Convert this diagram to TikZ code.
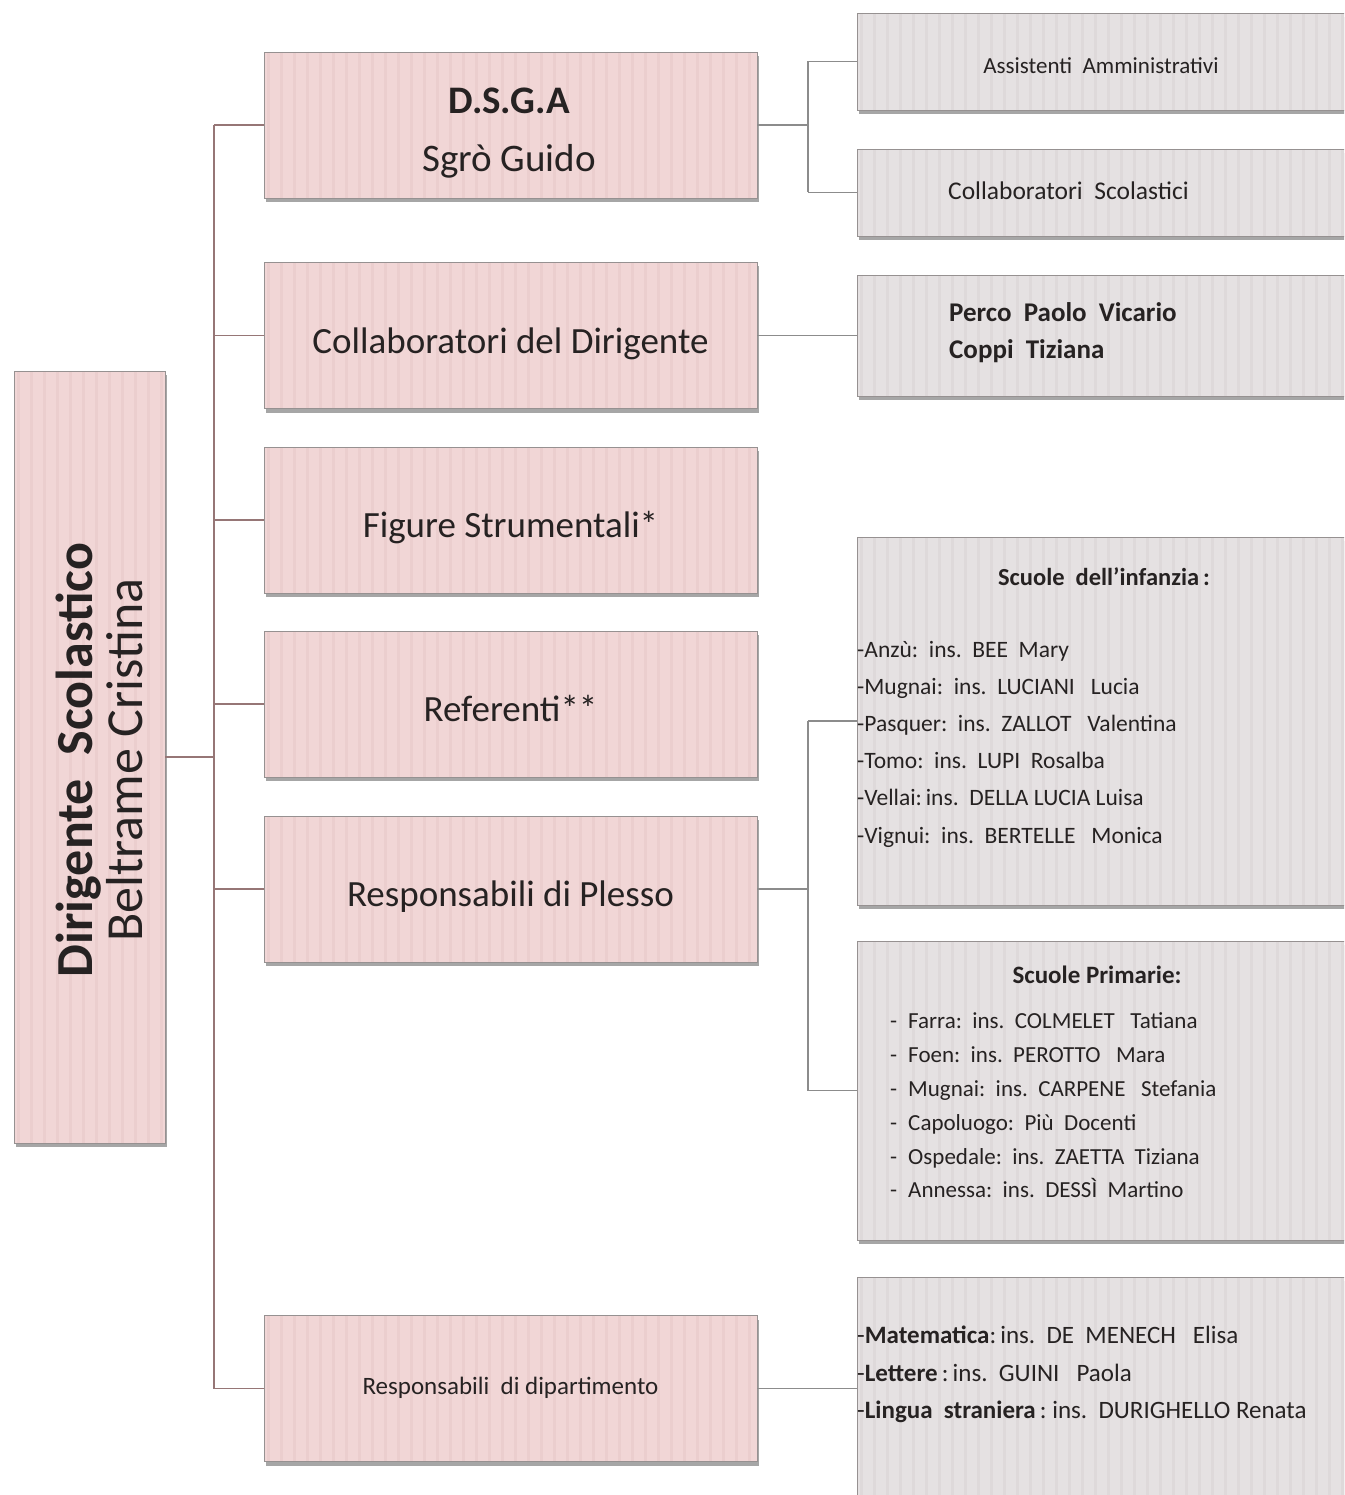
\documentclass[tikz,border=0pt]{standalone}
\usepackage{fontspec}
\setmainfont{Carlito}
\usetikzlibrary{shadows}
\definecolor{pinkfill}{RGB}{241,214,214}
\definecolor{pinkstripe}{RGB}{228,196,196}
\definecolor{grayfill}{RGB}{229,225,226}
\definecolor{graystripe}{RGB}{212,206,208}
\definecolor{trunkcol}{RGB}{150,118,118}
\definecolor{conncol}{RGB}{140,140,140}
\definecolor{boxline}{RGB}{150,145,145}
\definecolor{txt}{RGB}{38,34,34}
\tikzset{
  stripes/.style={path picture={\foreach \i in {0,...,40}{\draw[#1,line width=3pt,opacity=0.4] ([xshift=\i*13pt+4pt]path picture bounding box.north west) -- ([xshift=\i*13pt+4pt]path picture bounding box.south west);}}},
  basebox/.style={draw=boxline, line width=0.9pt, inner sep=0pt, text=txt,
    drop shadow={shadow xshift=1.5pt, shadow yshift=-4pt, fill=black, opacity=0.35}},
  pinkbox/.style={basebox, fill=pinkfill, stripes=pinkstripe},
  graybox/.style={basebox, fill=grayfill, stripes=graystripe},
  midbox/.style={pinkbox, minimum width=493pt, minimum height=146pt, align=center, font=\fontsize{37}{42}\selectfont, text height=42pt, text depth=7pt},
  rightbox/.style={graybox, minimum width=520pt},
  lbl/.style={inner sep=0pt, text=txt, align=left},
  trunkline/.style={draw=trunkcol, line width=1.3pt},
  connline/.style={draw=conncol, line width=1.2pt},
}
\begin{document}
\begin{tikzpicture}[x=1pt,y=-1pt]
\path[use as bounding box, fill=white] (0,0) rectangle (1344,1495);
\begin{scope}
\clip (0,0) rectangle (1344,1495);
% root
\node[pinkbox, minimum width=151pt, minimum height=772pt] (root) at (89.5,757) {};
\node[lbl, rotate=90, align=center, font=\fontsize{52}{50}\selectfont] (roottxt) at (99,760) {\textbf{Dirigente\ \ Scolastico}\\Beltrame Cristina};
% middle column
\node[midbox, minimum height=146pt] (dsga) at (510.5,125) {};
\node[lbl, align=center, font=\fontsize{39}{58}\selectfont] (dsgatxt) at (509,133) {\textbf{D.S.G.A}\\Sgrò Guido};
\node[midbox] (collab) at (510.5,335.5) {Collaboratori del Dirigente};
\node[midbox] (figure) at (510.5,520) {Figure Strumentali*};
\node[midbox] (refer) at (510.5,704) {Referenti**};
\node[midbox] (plesso) at (510.5,889) {Responsabili di Plesso};
\node[midbox, font=\fontsize{25}{28}\selectfont, text height=17.5pt, text depth=5pt] (dip) at (510.5,1388.5) {Responsabili\ \ di dipartimento};
% right column
\node[rightbox, minimum height=97pt] (assist) at (1117,61.5) {};
\node[rightbox, minimum height=87pt] (collsc) at (1117,192.5) {};
\node[rightbox, minimum height=121pt] (perco) at (1117,335.5) {};
\node[rightbox, minimum height=368pt] (infanzia) at (1117,721) {};
\node[rightbox, minimum height=299pt] (primarie) at (1117,1090.5) {};
\node[rightbox, minimum height=253pt] (mat) at (1117,1403.5) {};
% right texts
\node[lbl, font=\fontsize{23}{25}\selectfont] (assisttxt) at (1101,66) {Assistenti\ \ Amministrativi};
\node[lbl, anchor=west, font=\fontsize{25.5}{26}\selectfont] (collsctxt) at (948,191) {Collaboratori\ \ Scolastici};
\node[lbl, anchor=west, font=\fontsize{27}{37}\selectfont\bfseries] (percotxt) at (949,333) {Perco\ \ Paolo\ \ Vicario\\Coppi\ \ Tiziana};
\node[lbl, font=\fontsize{24.5}{25}\selectfont\bfseries] (inftitle) at (1104,577) {Scuole\ \ dell'infanzia\,:};
\node[lbl, anchor=west, font=\fontsize{23.5}{37.2}\selectfont] (inflist) at (857,744) {-Anzù:\ \ ins.\ \ BEE\ \ Mary\\-Mugnai:\ \ ins.\ \ LUCIANI\ \ \ Lucia\\-Pasquer:\ \ ins.\ \ ZALLOT\ \ \ Valentina\\-Tomo:\ \ ins.\ \ LUPI\ \ Rosalba\\-Vellai:\,ins.\ \ DELLA\ LUCIA\ Luisa\\-Vignui:\ \ ins.\ \ BERTELLE\ \ \ Monica};
\node[lbl, font=\fontsize{25}{26}\selectfont\bfseries] (primtitle) at (1097,975) {Scuole Primarie:};
\node[lbl, anchor=west, font=\fontsize{23}{33.8}\selectfont] (primlist) at (890,1105.5) {-\hspace{11pt}Farra:\ \ ins.\ \ COLMELET\ \ \ Tatiana\\-\hspace{11pt}Foen:\ \ ins.\ \ PEROTTO\ \ \ Mara\\-\hspace{11pt}Mugnai:\ \ ins.\ \ CARPENE\ \ \ Stefania\\-\hspace{11pt}Capoluogo:\ \ Più\ \ Docenti\\-\hspace{11pt}Ospedale:\ \ ins.\ \ ZAETTA\ \ Tiziana\\-\hspace{11pt}Annessa:\ \ ins.\ \ DESSÌ\ \ Martino};
\node[lbl, anchor=west, font=\fontsize{25}{37.5}\selectfont] (matlist) at (857,1374.5) {-\textbf{Matematica}:\,ins.\ \ DE\ \ MENECH\ \ \ Elisa\\-\textbf{Lettere}\,:\,ins.\ \ GUINI\ \ \ Paola\\-\textbf{Lingua\ \ straniera}\,:\ ins.\ \ DURIGHELLO\ Renata};
% trunk connectors
\coordinate (tk) at (214,0);
\coordinate (rk) at (808,0);
\draw[trunkline] (root.east) -- (root.east -| tk);
\draw[trunkline] (dsga.west -| tk) -- (dip.west -| tk);
\foreach \n in {dsga,collab,figure,refer,plesso,dip}{
  \draw[trunkline] (\n.west -| tk) -- (\n.west);
}
% right connectors
\draw[connline] (dsga.east) -- (dsga.east -| rk);
\draw[connline] (assist.west -| rk) -- (collsc.west -| rk);
\draw[connline] (assist.west -| rk) -- (assist.west);
\draw[connline] (collsc.west -| rk) -- (collsc.west);
\draw[connline] (collab.east) -- (perco.west);
\draw[connline] (plesso.east) -- (plesso.east -| rk);
\draw[connline] (infanzia.west -| rk) -- (primarie.west -| rk);
\draw[connline] (infanzia.west -| rk) -- (infanzia.west);
\draw[connline] (primarie.west -| rk) -- (primarie.west);
\draw[connline] (dip.east) -- (dip.east -| mat.west);
\end{scope}
\end{tikzpicture}
\end{document}
